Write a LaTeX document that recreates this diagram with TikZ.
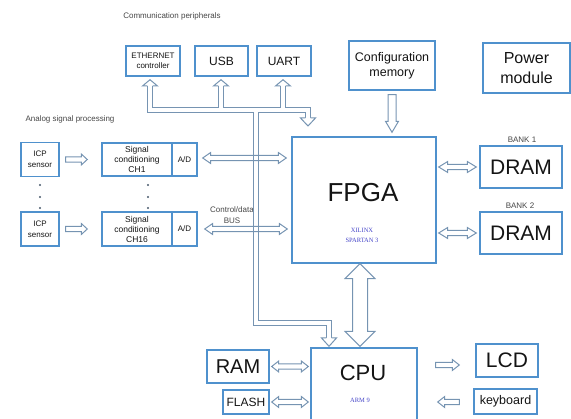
\documentclass[tikz,border=0pt]{standalone}
\usepackage{fontspec}
\setmainfont{Liberation Sans}
\newfontfamily\labelserif{Liberation Serif}
\usetikzlibrary{calc}

\definecolor{boxblue}{RGB}{79,145,205}
\definecolor{arrowblue}{RGB}{118,148,178}
\definecolor{inkdark}{RGB}{20,20,20}
\definecolor{captiongray}{RGB}{70,70,70}
\definecolor{chipblue}{RGB}{70,70,200}

\tikzset{
  box/.style={draw=boxblue, line width=1.4pt, inner sep=0pt, align=center, text=inkdark},
  blockarrow/.style={draw=arrowblue, line width=1pt, line join=miter},
  bus/.style={draw=arrowblue, line width=1pt, double=white, double distance=4.3pt},
  bushead/.style={draw=arrowblue, line width=1pt, fill=white},
  caption/.style={font=\fontsize{8}{11}\selectfont, text=captiongray, inner sep=0pt, align=center},
  chiptext/.style={font=\labelserif\fontsize{6.5}{10}\selectfont, text=chipblue, inner sep=0pt, align=center},
  dot/.style={fill=arrowblue!60!black},
}

% single-headed hollow block arrow: start, tip, half shaft, half head, head length
\newcommand{\blockarrowone}[5]{%
  \coordinate (ba-s) at #1;
  \coordinate (ba-e) at #2;
  \coordinate (ba-c) at ($(ba-e)!#5!(ba-s)$);
  \draw[blockarrow] ($(ba-s)!#3!90:(ba-e)$) -- ($(ba-c)!#3!90:(ba-e)$)
    -- ($(ba-c)!#4!90:(ba-e)$) -- (ba-e) -- ($(ba-c)!#4!-90:(ba-e)$)
    -- ($(ba-c)!#3!-90:(ba-e)$) -- ($(ba-s)!#3!-90:(ba-e)$) -- cycle;
}
% double-headed hollow block arrow: tip, tip, half shaft, half head, head length
\newcommand{\blockarrowtwo}[5]{%
  \coordinate (ba-s) at #1;
  \coordinate (ba-e) at #2;
  \coordinate (ba-c) at ($(ba-s)!#5!(ba-e)$);
  \coordinate (ba-d) at ($(ba-e)!#5!(ba-s)$);
  \draw[blockarrow] (ba-s) -- ($(ba-c)!#4!90:(ba-e)$) -- ($(ba-c)!#3!90:(ba-e)$)
    -- ($(ba-d)!#3!90:(ba-e)$) -- ($(ba-d)!#4!90:(ba-e)$) -- (ba-e)
    -- ($(ba-d)!#4!-90:(ba-e)$) -- ($(ba-d)!#3!-90:(ba-e)$)
    -- ($(ba-c)!#3!-90:(ba-e)$) -- ($(ba-c)!#4!-90:(ba-e)$) -- cycle;
}
% open arrow head closing a bus line: base point, tip
\newcommand{\bustip}[2]{%
  \coordinate (bh-b) at #1;
  \coordinate (bh-t) at #2;
  \filldraw[bushead] ($(bh-b)!2.65pt!90:(bh-t)$) -- ($(bh-b)!7.5pt!90:(bh-t)$) -- (bh-t)
    -- ($(bh-b)!7.5pt!-90:(bh-t)$) -- ($(bh-b)!2.65pt!-90:(bh-t)$);
}

\begin{document}
\begin{tikzpicture}[x=1pt,y=-1pt]
\useasboundingbox (0,0) rectangle (571,419);
\clip (0,0) rectangle (571,419);

% group captions
\node[caption] (capcomm) at (172,16) {Communication peripherals};
\node[caption] (capanalog) at (70,119) {Analog signal processing};

% communication peripherals
\node[box, minimum width=54pt, minimum height=30pt, font=\fontsize{8}{10}\selectfont] (eth) at (153,61) {ETHERNET\\controller};
\node[box, minimum width=53pt, minimum height=30pt, font=\fontsize{12}{14}\selectfont] (usb) at (221.5,61) {USB};
\node[box, minimum width=54pt, minimum height=30pt, font=\fontsize{12}{14}\selectfont] (uart) at (284,61) {UART};

% configuration and power
\node[box, minimum width=86pt, minimum height=49pt, font=\fontsize{12.5}{15}\selectfont] (cfg) at (392,65.5) {Configuration\\memory};
\node[box, minimum width=87pt, minimum height=50pt, font=\fontsize{16}{20}\selectfont] (pwr) at (526.5,68) {Power\\module};

% FPGA
\node[box, minimum width=144pt, minimum height=126pt] (fpga) at (364,200) {};
\node[font=\fontsize{26}{30}\selectfont, text=inkdark, inner sep=0pt] (fpganame) at (363,193) {FPGA};
\node[chiptext] (fpgapart) at (362,235) {XILINX\\SPARTAN 3};

% memory banks
\node[caption] (bank1) at (522,140) {BANK 1};
\node[box, minimum width=82pt, minimum height=42pt, font=\fontsize{21}{24}\selectfont] (dram1) at (521,167) {DRAM};
\node[caption] (bank2) at (520,206) {BANK 2};
\node[box, minimum width=82pt, minimum height=42pt, font=\fontsize{21}{24}\selectfont] (dram2) at (521,233) {DRAM};

% analog channels
\node[box, minimum width=38pt, minimum height=34pt, font=\fontsize{8}{11}\selectfont] (icp1) at (40,159.5) {ICP\\sensor};
\node[box, minimum width=38pt, minimum height=34pt, font=\fontsize{8}{11}\selectfont] (icp2) at (40,229) {ICP\\sensor};
\node[box, minimum width=70pt, minimum height=33pt, font=\fontsize{8.5}{10}\selectfont] (sc1) at (137,159.5) {Signal\\conditioning\\CH1};
\node[box, minimum width=25pt, minimum height=33pt, font=\fontsize{8}{10}\selectfont] (ad1) at (184.5,159.5) {A/D};
\node[box, minimum width=70pt, minimum height=34pt, font=\fontsize{8.5}{10}\selectfont] (sc2) at (137,229) {Signal\\conditioning\\CH16};
\node[box, minimum width=25pt, minimum height=34pt, font=\fontsize{8}{10}\selectfont] (ad2) at (184.5,229) {A/D};
\foreach \yy in {185,197,208} {
  \fill[dot] (40,\yy) circle (1.2pt);
  \fill[dot] (148,\yy) circle (1.2pt);
}
\node[caption] (busname) at (232,215.5) {Control/data\\BUS};

% CPU side
\node[box, minimum width=62pt, minimum height=33pt, font=\fontsize{20}{24}\selectfont] (ram) at (238,366.5) {RAM};
\node[box, minimum width=46pt, minimum height=24pt, font=\fontsize{12}{14}\selectfont] (flash) at (246,402) {FLASH};
\node[box, minimum width=106pt, minimum height=76pt] (cpu) at (364,386) {};
\node[font=\fontsize{22}{26}\selectfont, text=inkdark, inner sep=0pt] (cpuname) at (363,373) {CPU};
\node[chiptext] (cpupart) at (360,400) {ARM 9};
\node[box, minimum width=62pt, minimum height=33pt, font=\fontsize{21}{24}\selectfont] (lcd) at (507,360.5) {LCD};
\node[box, minimum width=63pt, minimum height=25pt, font=\fontsize{12.5}{14}\selectfont] (kbd) at (505.5,401.5) {keyboard};

% peripheral bus
\coordinate (busE) at (150,86);
\coordinate (busU) at (221,86);
\coordinate (busA) at (283,86);
\coordinate (busF) at (308,118);
\coordinate (busC) at (329,338);
\draw[bus] (busE) -- (150,110) -- (308,110) -- (busF)
  (busU) -- (221,110)
  (busA) -- (283,110)
  (256,110) -- (256,323) -- (329,323) -- (busC);
\bustip{(busE)}{($(eth.south)+(-3,3)$)}
\bustip{(busU)}{($(usb.south)+(-0.5,3)$)}
\bustip{(busA)}{($(uart.south)+(-1,3)$)}
\bustip{(busF)}{(308,126)}
\bustip{(busC)}{($(cpu.north)+(-35,-1)$)}

% analog signal path
\blockarrowone{($(icp1.east)+(6,0)$)}{($(sc1.west)+(-14,0)$)}{2.6pt}{5.5pt}{6pt}
\blockarrowone{($(icp2.east)+(6,0)$)}{($(sc2.west)+(-14,0)$)}{2.6pt}{5.5pt}{6pt}
\blockarrowtwo{($(ad1.east)+(5,-1.5)$)}{($(ad1.east -| fpga.west)+(-5,-1.5)$)}{2.6pt}{5.5pt}{8pt}
\blockarrowtwo{($(ad2.east)+(7,0)$)}{($(ad2.east -| fpga.west)+(-4,0)$)}{2.6pt}{5.5pt}{8pt}

% FPGA connections
\blockarrowone{($(cfg.south)+(0,4)$)}{($(cfg.south |- fpga.north)+(0,-4)$)}{4pt}{6.5pt}{11pt}
\blockarrowtwo{($(dram1.west -| fpga.east)+(2,0)$)}{($(dram1.west)+(-3,0)$)}{2.6pt}{5.5pt}{9pt}
\blockarrowtwo{($(dram2.west -| fpga.east)+(2,0)$)}{($(dram2.west)+(-3,0)$)}{2.6pt}{5.5pt}{9pt}
\blockarrowtwo{($(fpga.south)+(-4,0)$)}{($(cpu.north)+(-4,-1)$)}{7.5pt}{15pt}{15pt}

% CPU connections
\blockarrowtwo{($(ram.east)+(2,0)$)}{($(ram.east -| cpu.west)+(-2,0)$)}{2.6pt}{5.5pt}{7pt}
\blockarrowtwo{($(flash.east)+(2,0)$)}{($(flash.east -| cpu.west)+(-2,0)$)}{2.6pt}{5.5pt}{7pt}
\blockarrowone{($(lcd.west -| cpu.east)+(18,4.5)$)}{($(lcd.west)+(-16,4.5)$)}{2.6pt}{5.5pt}{7pt}
\blockarrowone{($(kbd.west)+(-14,0.5)$)}{($(kbd.west -| cpu.east)+(20,0.5)$)}{2.6pt}{5.5pt}{7pt}
\end{tikzpicture}
\end{document}
